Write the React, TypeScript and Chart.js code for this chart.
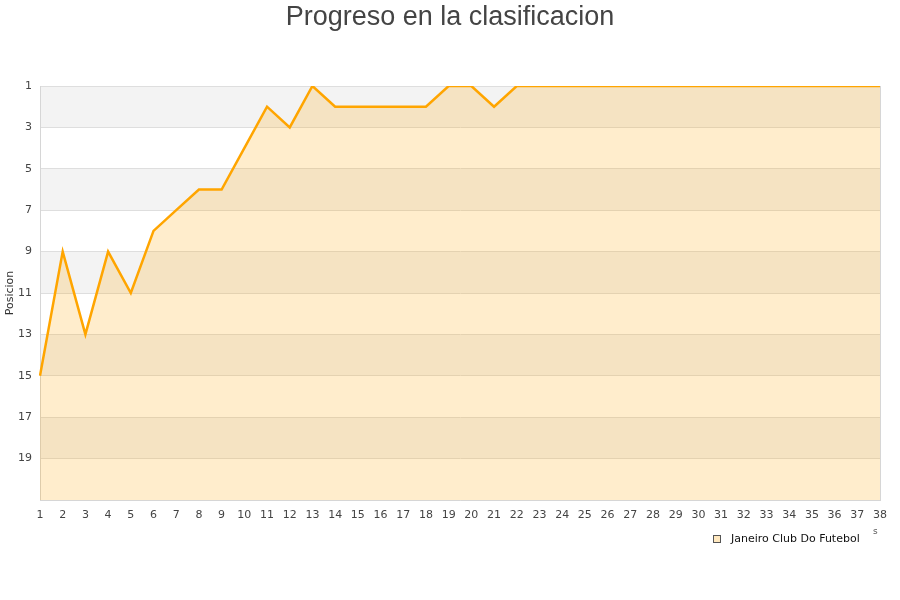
import React, { useEffect, useRef } from "react";
import { Chart, registerables } from "chart.js";

Chart.register(...registerables);

const chartTitle = "Progreso en la clasificacion";
const yAxisTitle = "Posicion";
const teamName = "Janeiro Club Do Futebol";
const matchdays = [
  "1", "2", "3", "4", "5", "6", "7", "8", "9", "10",
  "11", "12", "13", "14", "15", "16", "17", "18", "19", "20",
  "21", "22", "23", "24", "25", "26", "27", "28", "29", "30",
  "31", "32", "33", "34", "35", "36", "37", "38",
];
const positions = [
  15, 9, 13, 9, 11, 8, 7, 6, 6, 4,
  2, 3, 1, 2, 2, 2, 2, 2, 1, 1,
  2, 1, 1, 1, 1, 1, 1, 1, 1, 1,
  1, 1, 1, 1, 1, 1, 1, 1,
];
const bandStarts = [1, 5, 9, 13, 17];

const decorPlugin = {
  id: "decor",
  beforeDraw(chart: any) {
    const { ctx, chartArea } = chart;
    const y = chart.scales.y;
    ctx.save();
    ctx.fillStyle = "#f3f3f3";
    for (const s of bandStarts) {
      const t = y.getPixelForValue(s);
      const b = y.getPixelForValue(s + 2);
      ctx.fillRect(chartArea.left, t, chartArea.right - chartArea.left, b - t);
    }
    ctx.restore();
  },
  afterDraw(chart: any) {
    const { ctx, chartArea, width } = chart;
    ctx.save();
    ctx.strokeStyle = "#d6d6d6";
    ctx.lineWidth = 1;
    ctx.beginPath();
    ctx.moveTo(chartArea.right + 0.5, chartArea.top);
    ctx.lineTo(chartArea.right + 0.5, chartArea.bottom);
    ctx.stroke();
    ctx.fillStyle = "#444444";
    ctx.font = '27px "Liberation Sans", Arial, sans-serif';
    ctx.textAlign = "center";
    ctx.textBaseline = "alphabetic";
    ctx.fillText(chartTitle, width / 2, 25);
    ctx.fillStyle = "rgba(255,165,0,0.25)";
    ctx.fillRect(713.5, 535.5, 7, 7);
    ctx.strokeStyle = "#555555";
    ctx.strokeRect(713.5, 535.5, 7, 7);
    ctx.fillStyle = "#111111";
    ctx.font = '11px "DejaVu Sans", sans-serif';
    ctx.textAlign = "left";
    ctx.textBaseline = "middle";
    ctx.fillText(teamName, 731, 539);
    ctx.fillStyle = "#555555";
    ctx.font = '9px "DejaVu Sans", sans-serif';
    ctx.fillText("s", 873, 532);
    ctx.restore();
  },
};

export default function App() {
  const ref = useRef<HTMLCanvasElement>(null);
  useEffect(() => {
    document.body.style.margin = "0";
    const canvas = ref.current!;
    const chart = new Chart(canvas, {
      type: "line",
      data: {
        labels: matchdays,
        datasets: [
          {
            label: teamName,
            data: positions,
            borderColor: "#ffa500",
            backgroundColor: "rgba(255,165,0,0.2)",
            borderWidth: 2.5,
            pointRadius: 0,
            tension: 0,
            fill: "start",
          },
        ],
      },
      options: {
        animation: false,
        responsive: false,
        maintainAspectRatio: false,
        layout: { padding: { top: 86, right: 20, bottom: 70, left: 0 } },
        plugins: {
          legend: { display: false },
          title: { display: false },
          tooltip: { enabled: false },
        },
        scales: {
          x: {
            type: "category",
            offset: false,
            grid: { display: false, drawTicks: false },
            border: { display: true, color: "#d6d6d6" },
            ticks: {
              autoSkip: false,
              maxRotation: 0,
              minRotation: 0,
              padding: 9,
              color: "#444444",
              font: { family: '"DejaVu Sans", sans-serif', size: 11 },
            },
            afterFit(scale: any) {
              scale.height = 30;
            },
          },
          y: {
            type: "linear",
            reverse: true,
            min: 1,
            max: 21,
            grid: { color: "#dedede", drawTicks: false },
            border: { display: true, color: "#d6d6d6" },
            ticks: {
              stepSize: 2,
              padding: 8,
              color: "#444444",
              font: { family: '"DejaVu Sans", sans-serif', size: 11 },
              callback: (v: any) => (v === 21 ? "" : String(v)),
            },
            title: {
              display: true,
              text: yAxisTitle,
              color: "#333333",
              padding: { top: 4, bottom: 0 },
              font: { family: '"DejaVu Sans", sans-serif', size: 11 },
            },
            afterFit(scale: any) {
              scale.width = 40;
            },
          },
        },
      },
      plugins: [decorPlugin],
    });
    return () => chart.destroy();
  }, []);
  return <canvas ref={ref} width={900} height={600} style={{ display: "block" }} />;
}
